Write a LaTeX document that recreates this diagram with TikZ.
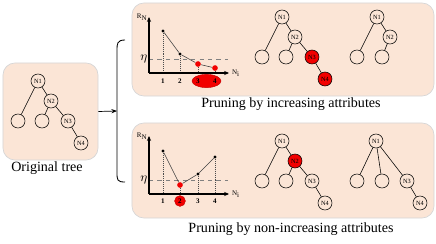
\documentclass[tikz,border=0pt]{standalone}
\usepackage{fontspec}
\setmainfont{Liberation Serif}
\usetikzlibrary{arrows.meta, shapes.geometric}
\definecolor{panelfill}{HTML}{FBE5D6}
\definecolor{panelline}{HTML}{D6D6D6}
\definecolor{prunered}{HTML}{F20000}

\begin{document}
\begin{tikzpicture}[x=0.025cm, y=-0.025cm,
  panel/.style={draw=panelline, fill=panelfill, rounded corners=0.3cm,
    line width=0.5pt},
  tnode/.style={draw, circle, minimum size=0.35cm, inner sep=0pt,
    font=\fontsize{4.5}{4.5}\selectfont, line width=0.4pt},
  cut/.style={tnode, fill=prunered},
  edge/.style={line width=0.4pt},
  arr/.style={-{Stealth[length=4pt, width=3pt]}, line width=0.5pt},
  axis/.style={-{Stealth[length=3.5pt, width=3pt]}, line width=0.9pt},
  pt/.style={circle, fill=black, inner sep=0pt, minimum size=2.2pt},
  redpt/.style={circle, fill=prunered, inner sep=0pt, minimum size=4pt},
  tick/.style={font=\fontsize{5}{5}\selectfont\bfseries},
  caption/.style={font=\fontsize{10}{12}\selectfont}
]
  \useasboundingbox (0,0) rectangle (436,244);

  % Panels
  \node[panel, minimum width=2.375cm, minimum height=2.425cm] (orig)
    at (50.5,111.5) {};
  \node[panel, minimum width=7.55cm, minimum height=2.325cm] (inc)
    at (283,49.5) {};
  \node[panel, minimum width=7.55cm, minimum height=2.375cm] (noninc)
    at (283,170.5) {};

  \node[caption] (capo) at (47,168) {Original tree};
  \node[caption] (capi) at (291,104) {Pruning by increasing attributes};
  \node[caption] (capn) at (291,229) {Pruning by non-increasing attributes};

  % Bracket and arrow
  \coordinate (brk) at (117,111);
  \draw[edge, line width=0.6pt] (125,40) .. controls (117,40) and (117,44) .. (117,50)
    -- (117,172) .. controls (117,180) and (117,182) .. (125,182);
  \draw[arr] (orig.east) -- (brk);

  % Original tree
  \begin{scope}[shift={(38,81)}]
    \node[tnode] (o1) at (0,0) {N1};
    \node[tnode] (o2) at (13,20) {N2};
    \node[tnode] (ol) at (-20,40) {};
    \node[tnode] (om) at (4,40) {};
    \node[tnode] (o3) at (30,40) {N3};
    \node[tnode] (o4) at (43,62) {N4};
  \end{scope}
  \draw[edge] (o1) -- (ol);
  \draw[edge] (o1) -- (o2);
  \draw[edge] (o2) -- (om);
  \draw[edge] (o2) -- (o3);
  \draw[edge] (o3) -- (o4);

  % Increasing: chart
  \coordinate (ao) at (149,73);
  \coordinate (ay) at (149,17);
  \coordinate (ax) at (229,73);
  \coordinate (ae) at (149,59);
  \draw[dashed, edge, gray] (ae) -- (228,59);
  \node[pt] (a1) at (163,31) {};
  \node[pt] (a2) at (180,54) {};
  \node[redpt] (a3) at (198,64) {};
  \node[redpt] (a4) at (215,68) {};
  \foreach \p in {a1,a2,a3,a4}
    \draw[densely dotted, edge, black!70] (\p) -- (\p |- ao);
  \draw[edge, black!75] (a1) -- (a2) -- (a3) -- (a4);
  \draw[axis] (ao) -- (ay);
  \draw[axis] (ao) -- (ax);
  \node[font=\fontsize{5}{5}\selectfont, left, inner sep=1pt] at (ay) {R$_\mathrm{N}$};
  \node[font=\fontsize{5}{5}\selectfont, right, inner sep=2pt] at (ax) {N$_\mathrm{i}$};
  \node[left, inner sep=1pt, font=\small] at (ae) {$\eta$};
  \node[ellipse, fill=prunered, draw=prunered!80!black, line width=0.3pt,
    minimum width=0.725cm, minimum height=0.25cm] (asel) at (206.5,81) {};
  \foreach \i/\x in {1/163,2/180,3/198,4/215}
    \node[tick] at (\x,81) {\i};

  % Increasing: pruned trees
  \begin{scope}[shift={(282,17)}]
    \node[tnode] (b1) at (0,0) {N1};
    \node[tnode] (b2) at (13,20) {N2};
    \node[tnode] (bl) at (-20,40) {};
    \node[tnode] (bm) at (4,40) {};
    \node[cut] (b3) at (30,40) {N3};
    \node[cut] (b4) at (43,62) {N4};
  \end{scope}
  \draw[edge] (b1) -- (bl);
  \draw[edge] (b1) -- (b2);
  \draw[edge] (b2) -- (bm);
  \draw[edge] (b2) -- (b3);
  \draw[edge] (b3) -- (b4);

  \begin{scope}[shift={(377,17)}]
    \node[tnode] (c1) at (0,0) {N1};
    \node[tnode] (c2) at (13,20) {N2};
    \node[tnode] (cl) at (-20,40) {};
    \node[tnode] (cm) at (5,40) {};
  \end{scope}
  \draw[edge] (c1) -- (cl);
  \draw[edge] (c1) -- (c2);
  \draw[edge] (c2) -- (cm);

  % Non-increasing: chart
  \coordinate (do) at (149,194);
  \coordinate (dy) at (149,136);
  \coordinate (dx) at (229,194);
  \coordinate (de) at (149,180);
  \draw[dashed, edge, gray] (de) -- (228,180);
  \node[pt] (d1) at (163,151) {};
  \node[redpt] (d2) at (180,185) {};
  \node[pt] (d3) at (198,174) {};
  \node[pt] (d4) at (215,157) {};
  \foreach \p in {d1,d2,d3,d4}
    \draw[densely dotted, edge, black!70] (\p) -- (\p |- do);
  \draw[edge, black!75] (d1) -- (d2) -- (d3) -- (d4);
  \draw[axis] (do) -- (dy);
  \draw[axis] (do) -- (dx);
  \node[font=\fontsize{5}{5}\selectfont, left, inner sep=1pt] at (dy) {R$_\mathrm{N}$};
  \node[font=\fontsize{5}{5}\selectfont, right, inner sep=2pt] at (dx) {N$_\mathrm{i}$};
  \node[left, inner sep=1pt, font=\small] at (de) {$\eta$};
  \node[circle, fill=prunered, draw=prunered!80!black, line width=0.3pt,
    minimum size=0.27cm, inner sep=0pt] (dsel) at (180,201) {};
  \foreach \i/\x in {1/163,2/180,3/198,4/215}
    \node[tick] at (\x,201) {\i};

  % Non-increasing: pruned trees
  \begin{scope}[shift={(282,141)}]
    \node[tnode] (e1) at (0,0) {N1};
    \node[cut] (e2) at (13,20) {N2};
    \node[tnode] (el) at (-20,40) {};
    \node[tnode] (em) at (4,40) {};
    \node[tnode] (e3) at (30,40) {N3};
    \node[tnode] (e4) at (43,62) {N4};
  \end{scope}
  \draw[edge] (e1) -- (el);
  \draw[edge] (e1) -- (e2);
  \draw[edge] (e2) -- (em);
  \draw[edge] (e2) -- (e3);
  \draw[edge] (e3) -- (e4);

  \begin{scope}[shift={(376,141)}]
    \node[tnode] (f1) at (0,0) {N1};
    \node[tnode] (fl) at (-19,40) {};
    \node[tnode] (fm) at (6,40) {};
    \node[tnode] (f3) at (31,40) {N3};
    \node[tnode] (f4) at (44,62) {N4};
  \end{scope}
  \draw[edge] (f1) -- (fl);
  \draw[edge] (f1) -- (fm);
  \draw[edge] (f1) -- (f3);
  \draw[edge] (f3) -- (f4);
\end{tikzpicture}
\end{document}
